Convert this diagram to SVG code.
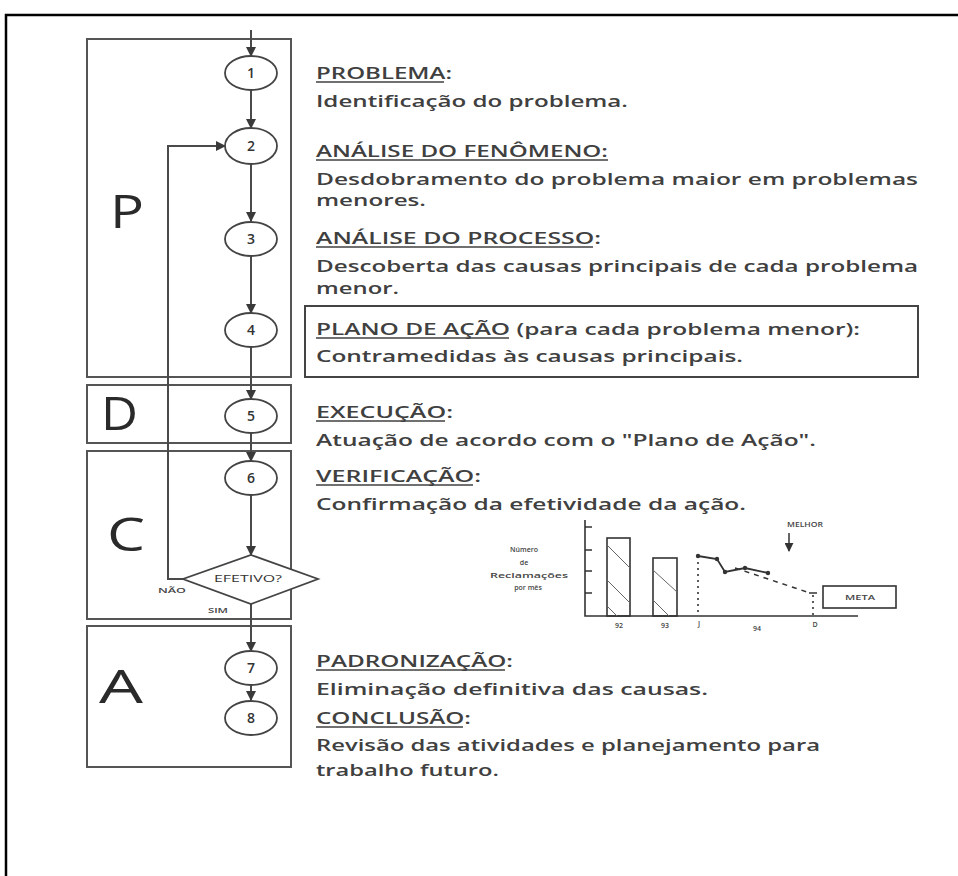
<svg xmlns="http://www.w3.org/2000/svg" width="958" height="876" viewBox="0 0 958 876">
<defs>
<marker id="ah" viewBox="0 0 10 10" refX="9" refY="5" markerWidth="5" markerHeight="5" markerUnits="strokeWidth" orient="auto">
<path d="M0,0 L10,5 L0,10 z" fill="#3a3a3a"/>
</marker>
<marker id="ahs" viewBox="0 0 10 10" refX="9" refY="5" markerWidth="6" markerHeight="6" orient="auto">
<path d="M0,0 L10,5 L0,10 z" fill="#333"/>
</marker>
<style>
.phase{fill:none;stroke:#555;stroke-width:2}
.node ellipse{fill:#fff;stroke:#444;stroke-width:1.8}
.num{font-family:"Open Sans","Liberation Sans",sans-serif;font-size:14px;font-weight:600;fill:#333;text-anchor:middle}
.big{font-family:"Open Sans","Liberation Sans",sans-serif;font-size:46px;font-weight:500;fill:#2a2a2a}
.t{font-family:"Open Sans","Liberation Sans",sans-serif;font-size:17px;font-weight:600;fill:#404040}
.ul{stroke:#404040;stroke-width:1.4}
.conn{fill:none;stroke:#4a4a4a;stroke-width:2}
.sm{font-family:"Open Sans","Liberation Sans",sans-serif;font-size:7px;font-weight:600;fill:#444}
.ch{fill:none;stroke:#333;stroke-width:1.6}
</style>
</defs>
<rect width="958" height="876" fill="#fff"/>
<!-- outer frame -->
<path d="M6,876 V15 H958" fill="none" stroke="#000" stroke-width="2.5"/>

<!-- phase boxes -->
<g id="phase-P"><rect class="phase" x="87" y="39" width="204" height="338"/><text class="big" x="110" y="228" textLength="34" lengthAdjust="spacingAndGlyphs">P</text></g>
<g id="phase-D"><rect class="phase" x="87" y="385" width="204" height="58"/><text class="big" x="101" y="430" textLength="37" lengthAdjust="spacingAndGlyphs">D</text></g>
<g id="phase-C"><rect class="phase" x="87" y="451" width="204" height="168"/><text class="big" x="107" y="551" textLength="38" lengthAdjust="spacingAndGlyphs">C</text></g>
<g id="phase-A"><rect class="phase" x="87" y="626" width="204" height="141"/><text class="big" x="99" y="703" textLength="44" lengthAdjust="spacingAndGlyphs">A</text></g>

<!-- connectors -->
<g id="connectors">
<line class="conn" x1="251" y1="30" x2="251" y2="56" marker-end="url(#ah)"/>
<line class="conn" x1="251" y1="90" x2="251" y2="128" marker-end="url(#ah)"/>
<line class="conn" x1="251" y1="164" x2="251" y2="221" marker-end="url(#ah)"/>
<line class="conn" x1="251" y1="256" x2="251" y2="313" marker-end="url(#ah)"/>
<line class="conn" x1="251" y1="347" x2="251" y2="399" marker-end="url(#ah)"/>
<line class="conn" x1="251" y1="433" x2="251" y2="461" marker-end="url(#ah)"/>
<line class="conn" x1="251" y1="495" x2="251" y2="555" marker-end="url(#ah)"/>
<line class="conn" x1="251" y1="604" x2="251" y2="651" marker-end="url(#ah)"/>
<line class="conn" x1="251" y1="685" x2="251" y2="700" marker-end="url(#ah)"/>
<polyline class="conn" points="183,579 168,579 168,146 225,146" marker-end="url(#ah)"/>
<text class="sm" x="158" y="593" textLength="28" lengthAdjust="spacingAndGlyphs">NÃO</text>
<text class="sm" x="208" y="613" textLength="20" lengthAdjust="spacingAndGlyphs" fill="#334">SIM</text>
</g>

<!-- nodes -->
<g id="n1" class="node"><ellipse cx="251" cy="73" rx="26" ry="17"/><text class="num" x="251" y="78">1</text></g>
<g id="n2" class="node"><ellipse cx="251" cy="146" rx="26" ry="18"/><text class="num" x="251" y="151">2</text></g>
<g id="n3" class="node"><ellipse cx="251" cy="239" rx="26" ry="17"/><text class="num" x="251" y="244">3</text></g>
<g id="n4" class="node"><ellipse cx="251" cy="330" rx="26" ry="17"/><text class="num" x="251" y="335">4</text></g>
<g id="n5" class="node"><ellipse cx="251" cy="416" rx="26" ry="17"/><text class="num" x="251" y="421">5</text></g>
<g id="n6" class="node"><ellipse cx="251" cy="478" rx="26" ry="17"/><text class="num" x="251" y="483">6</text></g>
<g id="decision" class="node"><polygon points="251,555 318,579 251,604 183,579" fill="#fff" stroke="#444" stroke-width="1.8"/><text x="214" y="582" font-family="Open Sans, Liberation Sans, sans-serif" font-size="9" fill="#333" textLength="68" lengthAdjust="spacingAndGlyphs">EFETIVO?</text></g>
<g id="n7" class="node"><ellipse cx="251" cy="668" rx="26" ry="17"/><text class="num" x="251" y="673">7</text></g>
<g id="n8" class="node"><ellipse cx="251" cy="718" rx="26" ry="17"/><text class="num" x="251" y="723">8</text></g>

<!-- descriptions -->
<g id="desc1">
<text class="t" x="316" y="79" textLength="136" lengthAdjust="spacingAndGlyphs">PROBLEMA:</text>
<line class="ul" x1="316" y1="82" x2="444" y2="82"/>
<text class="t" x="316" y="107" textLength="312" lengthAdjust="spacingAndGlyphs">Identificação do problema.</text>
</g>
<g id="desc2">
<text class="t" x="316" y="157" textLength="292" lengthAdjust="spacingAndGlyphs">ANÁLISE DO FENÔMENO:</text>
<line class="ul" x1="316" y1="160" x2="608" y2="160"/>
<text class="t" x="316" y="185" textLength="602" lengthAdjust="spacingAndGlyphs">Desdobramento do problema maior em problemas</text>
<text class="t" x="316" y="206" textLength="110" lengthAdjust="spacingAndGlyphs">menores.</text>
</g>
<g id="desc3">
<text class="t" x="316" y="244" textLength="285" lengthAdjust="spacingAndGlyphs">ANÁLISE DO PROCESSO:</text>
<line class="ul" x1="316" y1="247" x2="593" y2="247"/>
<text class="t" x="316" y="272" textLength="602" lengthAdjust="spacingAndGlyphs">Descoberta das causas principais de cada problema</text>
<text class="t" x="316" y="294" textLength="83" lengthAdjust="spacingAndGlyphs">menor.</text>
</g>
<g id="desc4">
<rect x="305" y="306" width="613" height="71" fill="none" stroke="#444" stroke-width="2"/>
<text class="t" x="316" y="335" textLength="544" lengthAdjust="spacingAndGlyphs">PLANO DE AÇÃO (para cada problema menor):</text>
<line class="ul" x1="316" y1="338" x2="509" y2="338"/>
<text class="t" x="316" y="362" textLength="427" lengthAdjust="spacingAndGlyphs">Contramedidas às causas principais.</text>
</g>
<g id="desc5">
<text class="t" x="316" y="418" textLength="137" lengthAdjust="spacingAndGlyphs">EXECUÇÃO:</text>
<line class="ul" x1="316" y1="421" x2="445" y2="421"/>
<text class="t" x="316" y="446" textLength="500" lengthAdjust="spacingAndGlyphs">Atuação de acordo com o "Plano de Ação".</text>
</g>
<g id="desc6">
<text class="t" x="316" y="482" textLength="165" lengthAdjust="spacingAndGlyphs">VERIFICAÇÃO:</text>
<line class="ul" x1="316" y1="485" x2="473" y2="485"/>
<text class="t" x="316" y="510" textLength="430" lengthAdjust="spacingAndGlyphs">Confirmação da efetividade da ação.</text>
</g>
<g id="desc7">
<text class="t" x="316" y="667" textLength="197" lengthAdjust="spacingAndGlyphs">PADRONIZAÇÃO:</text>
<line class="ul" x1="316" y1="670" x2="505" y2="670"/>
<text class="t" x="316" y="695" textLength="392" lengthAdjust="spacingAndGlyphs">Eliminação definitiva das causas.</text>
</g>
<g id="desc8">
<text class="t" x="316" y="724" textLength="155" lengthAdjust="spacingAndGlyphs">CONCLUSÃO:</text>
<line class="ul" x1="316" y1="727" x2="463" y2="727"/>
<text class="t" x="316" y="751" textLength="504" lengthAdjust="spacingAndGlyphs">Revisão das atividades e planejamento para</text>
<text class="t" x="316" y="776" textLength="183" lengthAdjust="spacingAndGlyphs">trabalho futuro.</text>
</g>

<!-- chart -->
<g id="chart">
<text class="sm" x="524" y="552" text-anchor="middle">Número</text>
<text class="sm" x="524" y="565" text-anchor="middle">de</text>
<text class="sm" x="529" y="578" text-anchor="middle" textLength="78" lengthAdjust="spacingAndGlyphs">Reclamações</text>
<text class="sm" x="528" y="590" text-anchor="middle">por mês</text>
<path class="ch" d="M585,520 V616 H858"/>
<path class="ch" d="M585,527 h7 M585,550 h7 M585,571 h7 M585,593 h7"/>
<rect x="607" y="538" width="23" height="78" fill="none" stroke="#333" stroke-width="1.6"/>
<rect x="653" y="558" width="24" height="58" fill="none" stroke="#333" stroke-width="1.6"/>
<path d="M607,545 L630,568 M607,580 L630,603 M607,606 L617,616 M653,570 L677,592 M653,600 L669,616" stroke="#666" stroke-width="1" fill="none"/>
<line x1="698" y1="556" x2="698" y2="616" stroke="#333" stroke-width="1.6" stroke-dasharray="2,4"/>
<line x1="813" y1="595" x2="813" y2="616" stroke="#333" stroke-width="1.6" stroke-dasharray="2,4"/>
<polyline points="698,556 717,559 725,572 745,568 768,573" fill="none" stroke="#333" stroke-width="1.8"/>
<g fill="#333"><circle cx="698" cy="556" r="2.2"/><circle cx="717" cy="559" r="2.2"/><circle cx="725" cy="572" r="2.2"/><circle cx="745" cy="568" r="2.2"/><circle cx="768" cy="573" r="2.2"/></g>
<line x1="735" y1="568" x2="810" y2="593" stroke="#333" stroke-width="1.5" stroke-dasharray="5,5"/>
<line x1="809" y1="593" x2="817" y2="593" stroke="#333" stroke-width="1.5"/>
<text class="sm" x="805" y="527" text-anchor="middle" textLength="36" lengthAdjust="spacingAndGlyphs">MELHOR</text>
<line x1="789" y1="533" x2="789" y2="551" stroke="#333" stroke-width="1.5" marker-end="url(#ahs)"/>
<rect x="823" y="586" width="73" height="22" fill="none" stroke="#333" stroke-width="1.6"/>
<text class="sm" x="860" y="600" text-anchor="middle" textLength="30" lengthAdjust="spacingAndGlyphs">META</text>
<text class="sm" x="619" y="628" text-anchor="middle">92</text>
<text class="sm" x="665" y="628" text-anchor="middle">93</text>
<text class="sm" x="699" y="626" text-anchor="middle">J</text>
<text class="sm" x="757" y="631" text-anchor="middle">94</text>
<text class="sm" x="815" y="627" text-anchor="middle">D</text>
</g>
</svg>
